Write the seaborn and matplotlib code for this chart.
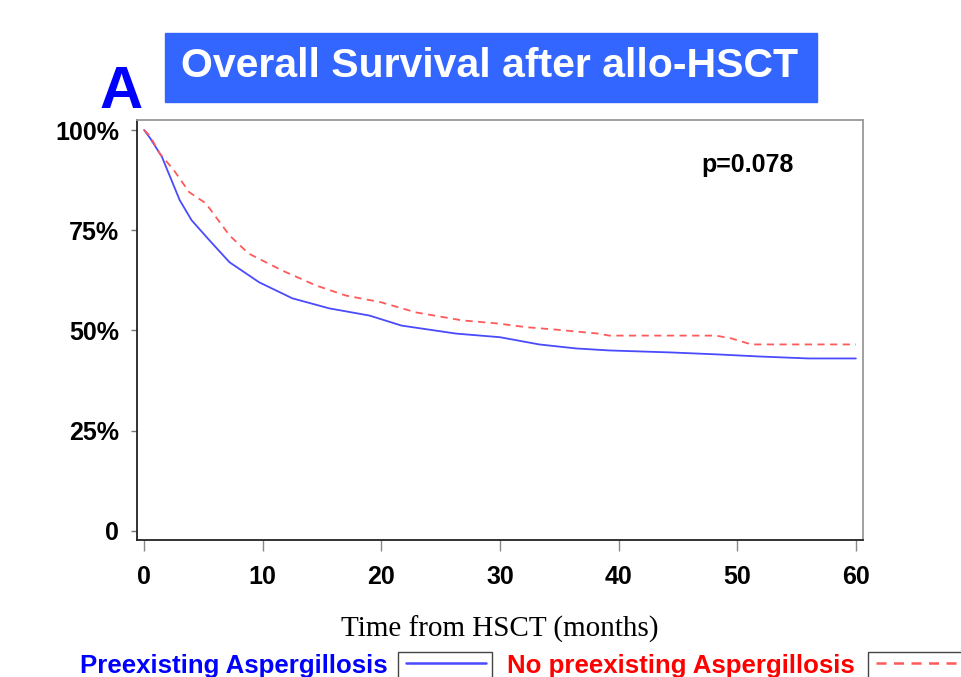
import numpy as np
import pandas as pd
import matplotlib
matplotlib.use("Agg")
import matplotlib.pyplot as plt
import seaborn as sns
from matplotlib.patches import Rectangle
from matplotlib.lines import Line2D

# survival curves (months, % surviving)
t_asp = [0, 0.5, 1.5, 3, 4, 5.5, 7.2, 9.7, 12.5, 15.6, 19, 21.7, 26.3, 30,
         33.3, 36.4, 39.2, 44.4, 48.4, 51.8, 56, 60]
s_asp = [100, 98, 93.3, 82.5, 77.5, 72.5, 67, 62, 58, 55.5, 53.7, 51.2, 49.2,
         48.3, 46.5, 45.5, 45, 44.5, 44, 43.5, 43, 43]
t_no = [0, 0.5, 1.3, 2.5, 3.8, 5.2, 7.2, 8.8, 11.6, 14.5, 17, 20, 22.9, 26.8,
        29.9, 32.2, 34.7, 38.3, 39.2, 48.2, 49.5, 51.2, 60]
s_no = [100, 98.5, 94.2, 90, 84.5, 81.7, 73.7, 69.2, 65, 61.2, 58.7, 57, 54.5,
        52.5, 51.7, 50.8, 50.2, 49.2, 48.7, 48.7, 48, 46.5, 46.5]

groups = ["Preexisting Aspergillosis", "No preexisting Aspergillosis"]
x_ticks = [0, 10, 20, 30, 40, 50, 60]
y_ticks = [0, 25, 50, 75, 100]
y_labels = ["0", "25%", "50%", "75%", "100%"]

df = pd.concat([
    pd.DataFrame({"month": t_asp, "surv": s_asp, "group": groups[0]}),
    pd.DataFrame({"month": t_no, "surv": s_no, "group": groups[1]}),
])

sns.set_style("white")
plt.rcParams["font.family"] = ["Liberation Sans", "DejaVu Sans"]
plt.rcParams["text.color"] = "black"

blue_line = "#4a4aff"
red_line = "#ff5a5a"

fig = plt.figure(figsize=(9.61, 6.77), dpi=100)
ax = fig.add_axes([137/961, 137/677, 726/961, 420/677])

sns.lineplot(data=df, x="month", y="surv", hue="group", style="group",
             palette={groups[0]: blue_line, groups[1]: red_line},
             dashes={groups[0]: "", groups[1]: (4, 3)},
             linewidth=1.3, legend=False, sort=False, estimator=None, ax=ax)

ax.set_xlim(-0.6, 60.6)
ax.set_ylim(-2.3, 102.5)
ax.set_xticks(x_ticks)
ax.set_yticks(y_ticks)
ax.set_yticklabels(y_labels)
for lab in ax.get_xticklabels() + ax.get_yticklabels():
    lab.set_fontweight("bold")
    lab.set_fontsize(18)
ax.tick_params(axis="y", direction="out", length=4, width=1, color="#777777",
               pad=9, left=True, labelcolor="black")
ax.tick_params(axis="x", direction="out", length=8, width=1, color="#888888",
               pad=10, bottom=True, labelcolor="black")

for side in ["left", "bottom"]:
    ax.spines[side].set_color("#222222")
    ax.spines[side].set_linewidth(1.3)
for side in ["top", "right"]:
    ax.spines[side].set_color("#999999")
    ax.spines[side].set_linewidth(1.3)
    ax.spines[side].set_visible(True)

ax.set_xlabel("Time from HSCT (months)", family="Liberation Serif", fontsize=21,
              labelpad=19, color="black")
ax.set_ylabel("")

ax.text(0.841, 0.893, "p=0.078", transform=ax.transAxes, ha="center", va="center",
        fontsize=18, fontweight="bold", color="black")

# title box
fig.patches.append(Rectangle((165/961, 1 - 102/677), 652/961, 69/677,
                             transform=fig.transFigure, color="#3366ff", zorder=0))
fig.text(490/961, 1 - 66/677, "Overall Survival after allo-HSCT", ha="center", va="center",
         color="white", fontsize=29.5, fontweight="bold")
fig.text(121/961, 1 - 92/677, "A", ha="center", va="center", color="#0000ff",
         fontsize=43, fontweight="bold")

# bottom legend
fig.text(80/961, 1 - 666/677, groups[0], ha="left", va="center", color="#0000ff",
         fontsize=18.6, fontweight="bold")
fig.text(507/961, 1 - 666/677, groups[1], ha="left", va="center", color="#ff0000",
         fontsize=18.6, fontweight="bold")
fig.patches.append(Rectangle((398/961, -0.05), 94/961, 0.05 + 25/677,
                             transform=fig.transFigure, fill=False, ec="#444444", lw=1))
fig.patches.append(Rectangle((868/961, -0.05), 120/961, 0.05 + 25/677,
                             transform=fig.transFigure, fill=False, ec="#444444", lw=1))
fig.lines.append(Line2D([406/961, 486/961], [1 - 663/677] * 2, transform=fig.transFigure,
                        color=blue_line, lw=1.8))
fig.lines.append(Line2D([876/961, 961/961], [1 - 663/677] * 2, transform=fig.transFigure,
                        color=red_line, lw=1.8, dashes=(4, 3)))

fig.savefig("out.png", dpi=100)
